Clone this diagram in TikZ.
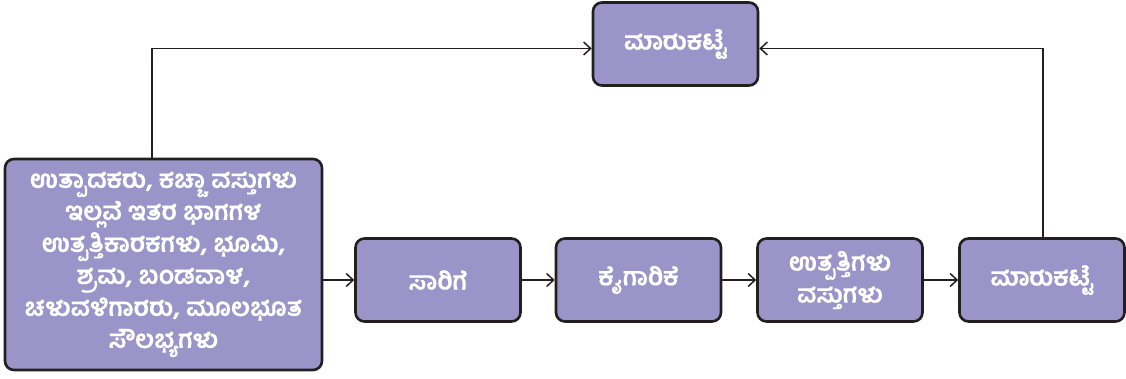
\documentclass[tikz,border=0pt]{standalone}
\usepackage{fontspec}
\newfontfamily\kannada[Script=Kannada,BoldFeatures={FakeBold=0.5}]{Hind Mysuru}
\usetikzlibrary{arrows.meta}
\definecolor{boxfill}{RGB}{155,148,200}
\definecolor{boxline}{RGB}{35,31,32}
\begin{document}
\begin{tikzpicture}[x=1pt,y=-1pt]
	\useasboundingbox (0,0) rectangle (1126,379);
	\begin{scope}[line width=1.5pt]
		\tikzstyle{every node}=[draw=boxline,fill=boxfill,rounded corners=9pt,line width=2.6pt,inner sep=0pt,minimum width=165pt,minimum height=83pt,align=center,text=white,font=\kannada\bfseries\fontsize{25}{32}\selectfont];
		\tikzstyle{flow}=[-{Straight Barb[length=7pt,width=13pt]},draw=boxline];
		\path (675.5, 44  ) node (top)   {ಮಾರುಕಟ್ಟೆ};
		\path (163.5,264.5) node [minimum width=317pt,minimum height=211pt] (inputs) {ಉತ್ಪಾದಕರು, ಕಚ್ಚಾ ವಸ್ತುಗಳು\\ಇಲ್ಲವೆ ಇತರ ಭಾಗಗಳ\\ಉತ್ಪತ್ತಿಕಾರಕಗಳು, ಭೂಮಿ,\\ಶ್ರಮ, ಬಂಡವಾಳ,\\ಚಳುವಳಿಗಾರರು, ಮೂಲಭೂತ\\ಸೌಲಭ್ಯಗಳು};
		\path (438  ,280  ) node (sarige) {ಸಾರಿಗೆ};
		\path (638.5,280  ) node (kaig)   {ಕೈಗಾರಿಕೆ};
		\path (840  ,280  ) node (utp)    {ಉತ್ಪತ್ತಿಗಳು\\ವಸ್ತುಗಳು};
		\path (1042 ,280  ) node (market) {ಮಾರುಕಟ್ಟೆ};
		\draw[flow] (inputs.east |- sarige) -- (sarige);
		\draw[flow] (sarige) -- (kaig);
		\draw[flow] (kaig)   -- (utp);
		\draw[flow] (utp)    -- (market);
		\draw[flow] (inputs.north -| 152,0) |- ([yshift=-4.5pt]top.west);
		\draw[flow] (market.north -| 1043,0) |- ([yshift=-4.5pt]top.east);
	\end{scope}
\end{tikzpicture}
\end{document}
